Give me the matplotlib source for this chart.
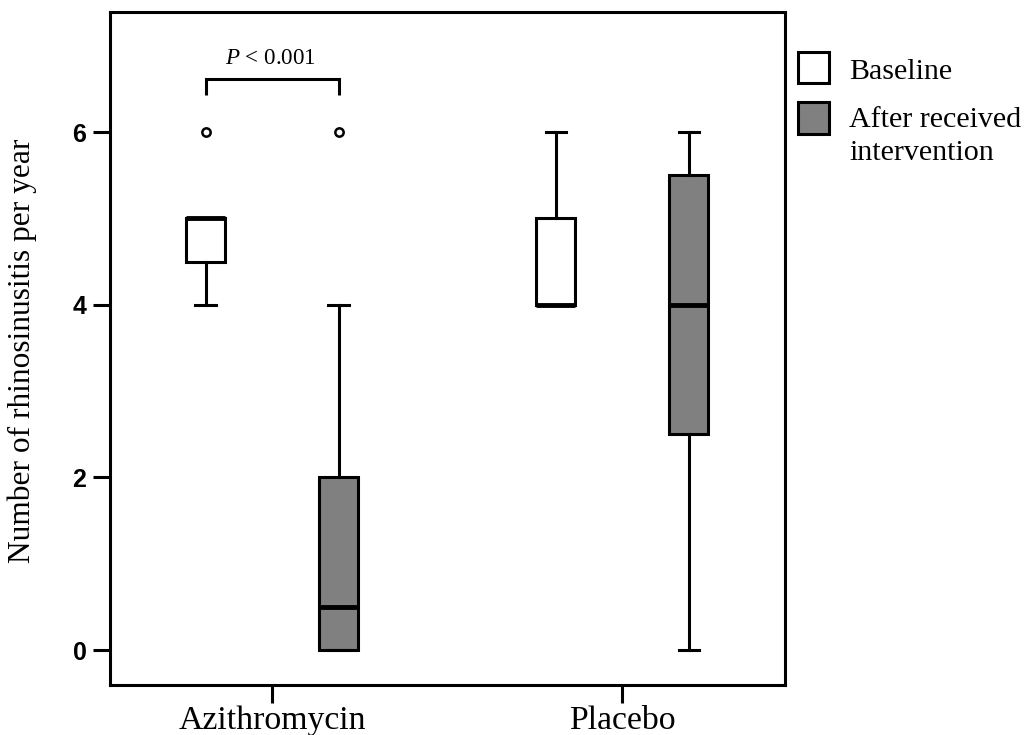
import matplotlib
matplotlib.use("Agg")
import matplotlib.pyplot as plt
from matplotlib.patches import Rectangle

plt.rcParams["mathtext.fontset"] = "custom"
plt.rcParams["mathtext.it"] = "Liberation Serif:italic"
plt.rcParams["mathtext.rm"] = "Liberation Serif"

# groups and box statistics
groups = ["Azithromycin", "Placebo"]
series = ["Baseline", "After received\nintervention"]
colors = ["white", "#808080"]

# order: [Azithromycin, Placebo]
base_whislo = [4, 4]
base_q1 = [4.5, 4]
base_med = [5, 4]
base_q3 = [5, 5]
base_whishi = [5, 6]
base_fliers = [[6], []]

after_whislo = [0, 0]
after_q1 = [0, 2.5]
after_med = [0.5, 4]
after_q3 = [2, 5.5]
after_whishi = [4, 6]
after_fliers = [[6], []]

p_text = "$P$ < 0.001"

serif = "Liberation Serif"

fig = plt.figure(figsize=(10.31, 7.35), dpi=100)
ax = fig.add_axes([110 / 1031, 1 - 685 / 735, 675 / 1031, 673 / 735])


def make_stats(wl, q1, med, q3, wh, fl):
    out = []
    for i in range(len(wl)):
        out.append(dict(whislo=wl[i], q1=q1[i], med=med[i], q3=q3[i],
                        whishi=wh[i], fliers=fl[i]))
    return out


stats_all = [
    make_stats(base_whislo, base_q1, base_med, base_q3, base_whishi, base_fliers),
    make_stats(after_whislo, after_q1, after_med, after_q3, after_whishi, after_fliers),
]
offsets = [-0.19, 0.19]

for k in range(2):
    pos = [i + offsets[k] for i in range(len(groups))]
    ax.bxp(stats_all[k], positions=pos, widths=0.11, patch_artist=True,
           boxprops=dict(facecolor=colors[k], edgecolor="black", linewidth=2.2),
           medianprops=dict(color="black", linewidth=3.5),
           whiskerprops=dict(color="black", linewidth=2.2),
           capprops=dict(color="black", linewidth=2.2),
           capwidths=0.058,
           flierprops=dict(marker="o", markersize=6, markerfacecolor="white",
                           markeredgecolor="black", markeredgewidth=1.8),
           manage_ticks=False)

# significance bracket
x1, x2 = 0 + offsets[0], 0 + offsets[1]
ax.plot([x1, x1, x2, x2], [6.43, 6.61, 6.61, 6.43], color="black", lw=2.2,
        solid_capstyle="butt", solid_joinstyle="miter")
ax.text((x1 + x2) / 2 - 0.005, 6.79, p_text, ha="center", va="baseline",
        fontsize=16.6, family=serif)

ax.set_xlim(-0.463, 1.465)
ax.set_ylim(-0.405, 7.39)
ax.set_xticks(range(len(groups)))
ax.set_xticklabels(groups, fontsize=24.3, family=serif)
ax.set_yticks([0, 2, 4, 6])
ax.set_yticklabels(["0", "2", "4", "6"], fontsize=18, fontweight="bold",
                   family=["Liberation Sans Narrow", "Liberation Sans"])
ax.tick_params(axis="both", direction="out", length=12, width=2.2)
ax.tick_params(axis="x", length=13, pad=2)
ax.tick_params(axis="y", pad=5)
for s in ax.spines.values():
    s.set_linewidth(2.2)
ax.set_ylabel("Number of rhinosinusitis per year", fontsize=22.6, family=serif)
ax.yaxis.set_label_coords(-0.108, 0.496)

# legend drawn by hand so the grey square sits at the first text line
H = 735
sq = [(52, 83), (102, 134)]
for k in range(2):
    top, bot = sq[k]
    fig.add_artist(Rectangle((798 / 1031, 1 - bot / H), 31 / 1031, (bot - top) / H,
                             transform=fig.transFigure, facecolor=colors[k],
                             edgecolor="black", linewidth=2.2))
text_rows = [series[0]] + series[1].split("\n")
row_base = [79, 127, 160]
for t, yb in zip(text_rows, row_base):
    fig.text(849 / 1031, 1 - yb / H, t, fontsize=21.6, family=serif,
             va="baseline", ha="left")

fig.savefig("out.png", dpi=100)
